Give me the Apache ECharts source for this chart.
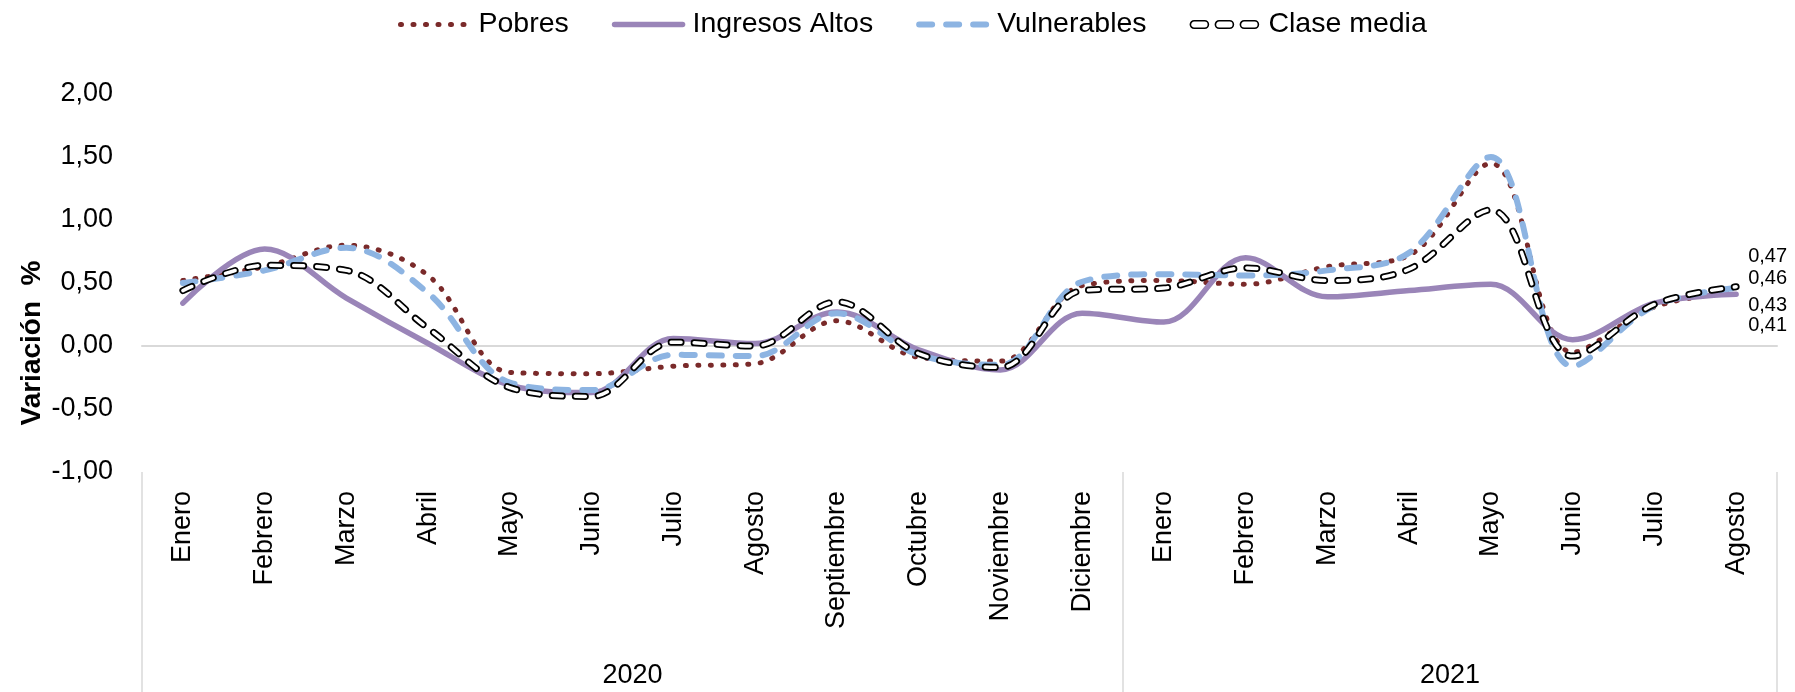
<!DOCTYPE html>
<html>
<head>
<meta charset="utf-8">
<script src="https://cdn.jsdelivr.net/npm/echarts@6/dist/echarts.min.js"></script>
<style>
  html, body { margin: 0; padding: 0; background: #ffffff; }
  #chart { width: 1795px; height: 692px; }
</style>
</head>
<body>
<div id="chart"></div>
<script>
// Monthly variation (%) by socioeconomic group, Jan 2020 – Aug 2021
const months = ['Enero', 'Febrero', 'Marzo', 'Abril', 'Mayo', 'Junio', 'Julio', 'Agosto',
  'Septiembre', 'Octubre', 'Noviembre', 'Diciembre',
  'Enero', 'Febrero', 'Marzo', 'Abril', 'Mayo', 'Junio', 'Julio', 'Agosto'];
const yearLabels = ['2020', '2021'];
const monthsPerYear = [12, 8];

const pobres        = [0.52, 0.63, 0.80, 0.56, -0.21, -0.22, -0.16, -0.14, 0.20, -0.09, -0.12, 0.48, 0.52, 0.49, 0.63, 0.72, 1.45, -0.05, 0.31, 0.43];
const ingresosAltos = [0.34, 0.77, 0.38, 0.02, -0.31, -0.37, 0.06, 0.02, 0.27, -0.03, -0.19, 0.26, 0.19, 0.70, 0.39, 0.44, 0.49, 0.05, 0.34, 0.41];
const vulnerables   = [0.50, 0.60, 0.78, 0.42, -0.29, -0.35, -0.07, -0.08, 0.26, -0.07, -0.15, 0.51, 0.57, 0.56, 0.60, 0.74, 1.50, -0.16, 0.32, 0.46];
const claseMedia    = [0.44, 0.64, 0.60, 0.14, -0.33, -0.40, 0.03, 0.00, 0.35, -0.06, -0.17, 0.44, 0.46, 0.62, 0.52, 0.61, 1.08, -0.08, 0.33, 0.47];

const yMin = -1, yMax = 2, yStep = 0.5;

const FONT = '"Liberation Sans", Arial, sans-serif';
const fmt = v => Number(v).toFixed(2).replace('.', ',');

// group boundaries and centres for the year level of the axis
const yearBounds = [0];
monthsPerYear.forEach(n => yearBounds.push(yearBounds[yearBounds.length - 1] + n));
const yearCenters = yearLabels.map((_, i) => (yearBounds[i] + yearBounds[i + 1]) / 2);

const SMOOTH = 0.35;

// legend key for the outlined dashes: three pill shapes
function pill(x) {
  const r = 3.75, w = 18;
  return 'M' + (x + r) + ' 0 H' + (x + w - r) + ' A' + r + ' ' + r + ' 0 0 1 ' + (x + w - r) + ' ' + (2 * r) +
    ' H' + (x + r) + ' A' + r + ' ' + r + ' 0 0 1 ' + (x + r) + ' 0 Z ';
}
const outlinedDashIcon = 'path://' + pill(0) + pill(25) + pill(50);

function endLabel(dy) {
  return {
    show: true,
    formatter: p => fmt(p.value),
    color: '#000000',
    fontFamily: FONT,
    fontSize: 20,
    distance: 12,
    offset: [0, dy]
  };
}

const chart = echarts.init(document.getElementById('chart'), null, { renderer: 'canvas' });

chart.setOption({
  animation: false,
  backgroundColor: '#ffffff',
  legend: {
    top: 5,
    left: 393,
    itemWidth: 68,
    itemHeight: 7.5,
    itemGap: 43,
    textStyle: { fontFamily: FONT, fontSize: 28.5, color: '#000000', padding: [0, 0, 0, 5] },
    itemStyle: { color: 'rgba(0,0,0,0)', borderColor: 'rgba(0,0,0,0)', borderWidth: 0, opacity: 0 },
    lineStyle: { width: 'inherit', type: 'inherit', cap: 'inherit', color: 'inherit' },
    data: [
      'Pobres',
      'Ingresos Altos',
      'Vulnerables',
      {
        name: 'Clase media',
        icon: outlinedDashIcon,
        itemStyle: { color: '#ffffff', borderColor: '#000000', borderWidth: 1.6, opacity: 1 }
      }
    ]
  },
  grid: { left: 142, right: 18, top: 94, bottom: 220, containLabel: false, outerBoundsMode: 'none' },
  xAxis: [
    {
      // month labels
      type: 'category',
      data: months,
      boundaryGap: true,
      axisLine: { show: false, onZero: false },
      axisTick: { show: false },
      splitLine: { show: false },
      axisLabel: {
        interval: 0,
        rotate: 90,
        margin: 19,
        fontFamily: FONT,
        fontSize: 27,
        color: '#000000'
      }
    },
    {
      // year level: separators and year names
      type: 'value',
      min: 0,
      max: months.length,
      position: 'bottom',
      axisLine: { show: false, onZero: false },
      splitLine: { show: false },
      axisTick: {
        show: true,
        inside: false,
        length: 220,
        customValues: yearBounds,
        lineStyle: { color: '#D9D9D9', width: 1.5 }
      },
      axisLabel: {
        show: true,
        customValues: yearCenters,
        formatter: v => yearLabels[yearCenters.indexOf(v)] || '',
        margin: 190,
        fontFamily: FONT,
        fontSize: 27,
        color: '#000000'
      }
    },
    {
      // horizontal line through zero
      type: 'category',
      data: months,
      axisLine: { show: true, onZero: true, lineStyle: { color: '#D9D9D9', width: 2 } },
      axisTick: { show: false },
      axisLabel: { show: false },
      splitLine: { show: false }
    }
  ],
  yAxis: {
    type: 'value',
    min: yMin,
    max: yMax,
    interval: yStep,
    axisLine: { show: false },
    axisTick: { show: false },
    splitLine: { show: false },
    axisLabel: {
      formatter: v => fmt(v),
      margin: 29,
      fontFamily: FONT,
      fontSize: 27,
      color: '#000000'
    }
  },
  graphic: [
    {
      type: 'text',
      x: 32,
      y: 343,
      rotation: Math.PI / 2,
      style: {
        text: 'Variación  %',
        fontFamily: FONT,
        fontSize: 28,
        fontWeight: 'bold',
        fill: '#000000',
        textAlign: 'center',
        textVerticalAlign: 'middle'
      }
    }
  ],
  series: [
    {
      name: 'Pobres',
      type: 'line',
      data: pobres,
      smooth: SMOOTH,
      symbol: 'none',
      lineStyle: { color: '#7A2A2A', width: 5, type: [1, 11.5], cap: 'round' },
      itemStyle: { color: '#7A2A2A' },
      endLabel: endLabel(14)
    },
    {
      name: 'Ingresos Altos',
      type: 'line',
      data: ingresosAltos,
      smooth: SMOOTH,
      symbol: 'none',
      lineStyle: { color: '#9A85B8', width: 5.5, cap: 'round' },
      itemStyle: { color: '#9A85B8' },
      endLabel: endLabel(31)
    },
    {
      name: 'Vulnerables',
      type: 'line',
      data: vulnerables,
      smooth: SMOOTH,
      symbol: 'none',
      lineStyle: { color: '#8DB4E2', width: 6, type: [13, 14], cap: 'round' },
      itemStyle: { color: '#8DB4E2' },
      endLabel: endLabel(-10)
    },
    {
      name: 'Clase media',
      type: 'line',
      data: claseMedia,
      smooth: SMOOTH,
      symbol: 'none',
      lineStyle: { color: '#000000', width: 7, type: [10, 13], cap: 'round' },
      itemStyle: { color: '#000000' },
      endLabel: endLabel(-30)
    },
    {
      // white core of the outlined dashes
      name: 'Clase media',
      type: 'line',
      data: claseMedia,
      smooth: SMOOTH,
      symbol: 'none',
      silent: true,
      lineStyle: { color: '#ffffff', width: 3.5, type: [10, 13], cap: 'round' },
      itemStyle: { color: '#000000' }
    }
  ]
});
</script>
</body>
</html>
